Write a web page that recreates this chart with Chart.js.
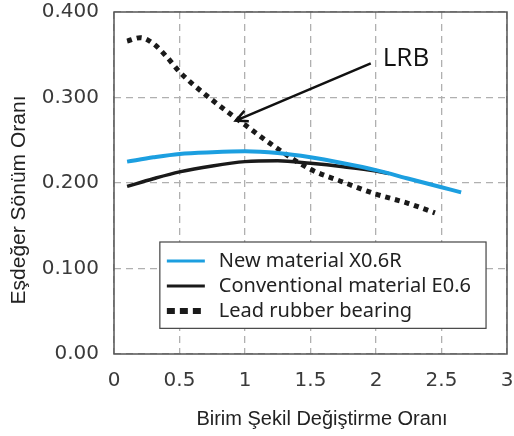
<!DOCTYPE html>
<html>
<head>
<meta charset="utf-8">
<script src="https://cdn.jsdelivr.net/npm/chart.js@4"></script>
<style>
  html, body { margin: 0; padding: 0; background: #fff; }
  #box { width: 514px; height: 436px; }
</style>
</head>
<body>
<div id="box"><canvas id="myChart"></canvas></div>
<script>
var xTicks = [0, 0.5, 1, 1.5, 2, 2.5, 3];
var yTicks = [0, 0.1, 0.2, 0.3, 0.4];

var seriesNames = ["New material X0.6R", "Conventional material E0.6", "Lead rubber bearing"];

var newX = [0.1, 0.3, 0.5, 0.75, 1.0, 1.25, 1.5, 1.75, 2.0, 2.25, 2.5, 2.65];
var newY = [0.225, 0.230, 0.234, 0.236, 0.237, 0.235, 0.230, 0.223, 0.215, 0.205, 0.195, 0.189];

var convX = [0.1, 0.3, 0.5, 0.75, 1.0, 1.25, 1.5, 1.75, 2.0, 2.1];
var convY = [0.196, 0.205, 0.213, 0.220, 0.225, 0.226, 0.223, 0.219, 0.214, 0.211];

var lrbX = [0.1, 0.2, 0.3, 0.4, 0.5, 0.75, 1.0, 1.25, 1.5, 1.75, 2.0, 2.25, 2.45];
var lrbY = [0.366, 0.370, 0.363, 0.348, 0.330, 0.297, 0.268, 0.240, 0.216, 0.201, 0.187, 0.176, 0.165];

var xTitle = "Birim Şekil Değiştirme Oranı";
var yTitle = "Eşdeğer Sönüm Oranı";
var arrowText = "LRB";

const pts = (xs, ys) => xs.map((x, i) => ({ x: x, y: ys[i] }));

var blue = "#1c9fe0";
var black = "#1a1a1a";

// frame, axis titles, LRB arrow and the boxed legend
var extras = {
    id: "extras",
    afterDatasetsDraw(chart) {
        const ctx = chart.ctx;
        const a = chart.chartArea;
        const xs = chart.scales.x, ys = chart.scales.y;
        ctx.save();

        ctx.strokeStyle = "#555";
        ctx.lineWidth = 1.5;
        ctx.strokeRect(a.left, a.top, a.right - a.left, a.bottom - a.top);

        // arrow
        const x0 = xs.getPixelForValue(1.96), y0 = ys.getPixelForValue(0.340);
        const x1 = xs.getPixelForValue(0.93), y1 = ys.getPixelForValue(0.273);
        ctx.strokeStyle = "#111";
        ctx.lineWidth = 2.5;
        ctx.beginPath();
        ctx.moveTo(x0, y0);
        ctx.lineTo(x1, y1);
        const ang = Math.atan2(y1 - y0, x1 - x0);
        ctx.moveTo(x1 - 13 * Math.cos(ang - 0.45), y1 - 13 * Math.sin(ang - 0.45));
        ctx.lineTo(x1, y1);
        ctx.lineTo(x1 - 13 * Math.cos(ang + 0.45), y1 - 13 * Math.sin(ang + 0.45));
        ctx.stroke();

        ctx.fillStyle = "#111";
        ctx.font = "26px 'Open Sans'";
        ctx.textBaseline = "middle";
        ctx.textAlign = "left";
        ctx.fillText(arrowText, x0 + 12, y0 - 5);

        // legend
        const lx = xs.getPixelForValue(0.35), rx = xs.getPixelForValue(2.84);
        const ty = ys.getPixelForValue(0.131), by = ys.getPixelForValue(0.030);
        ctx.fillStyle = "#fff";
        ctx.fillRect(lx, ty, rx - lx, by - ty);
        ctx.strokeStyle = "#444";
        ctx.lineWidth = 1.2;
        ctx.strokeRect(lx, ty, rx - lx, by - ty);

        ctx.font = "20px 'Noto Sans'";
        chart.data.datasets.forEach((ds, i) => {
            const cy = ty + 19 + i * 25;
            ctx.strokeStyle = ds.borderColor;
            if (ds.borderDash.length) {
                ctx.lineWidth = 6;
                ctx.setLineDash([8, 5]);
            } else {
                ctx.lineWidth = 3;
                ctx.setLineDash([]);
            }
            ctx.beginPath();
            ctx.moveTo(lx + 7, cy);
            ctx.lineTo(lx + 45, cy);
            ctx.stroke();
            ctx.setLineDash([]);
            ctx.fillStyle = "#222";
            ctx.fillText(ds.label, lx + 59, cy);
        });

        // axis titles
        ctx.fillStyle = "#222";
        ctx.font = "20px 'Liberation Sans'";
        ctx.textAlign = "center";
        ctx.fillText(xTitle, 322, 419);
        ctx.font = "21px 'Liberation Sans'";
        ctx.translate(19, 200);
        ctx.rotate(-Math.PI / 2);
        ctx.fillText(yTitle, 0, 0);
        ctx.restore();
    }
};

new Chart("myChart", {
    type: "line",
    data: {
        datasets: [{
            label: seriesNames[0],
            data: pts(newX, newY),
            borderColor: blue,
            borderWidth: 4,
            borderDash: []
        }, {
            label: seriesNames[1],
            data: pts(convX, convY),
            borderColor: black,
            borderWidth: 3.5,
            borderDash: []
        }, {
            label: seriesNames[2],
            data: pts(lrbX, lrbY),
            borderColor: black,
            borderWidth: 5,
            borderDash: [5, 5]
        }]
    },
    options: {
        animation: false,
        responsive: true,
        maintainAspectRatio: false,
        layout: { padding: { top: 12, right: 7, left: 0, bottom: 0 } },
        elements: {
            point: { radius: 0 },
            line: { tension: 0.4, cubicInterpolationMode: "monotone", fill: false }
        },
        plugins: {
            legend: { display: false },
            tooltip: { enabled: false }
        },
        scales: {
            x: {
                type: "linear",
                min: 0,
                max: 3,
                afterBuildTicks: (s) => { s.ticks = xTicks.map(v => ({ value: v })); },
                afterFit: (s) => { s.height = 82; s.paddingLeft = 0; s.paddingRight = 0; },
                ticks: {
                    padding: 15,
                    color: "#3a3a3a",
                    font: { family: "DejaVu Sans", size: 20 },
                    maxRotation: 0,
                    callback: (v) => String(v)
                },
                grid: { color: "#b0b0b0", lineWidth: 1.3, drawTicks: false },
                border: { display: false, dash: [7, 5] }
            },
            y: {
                min: 0,
                max: 0.4,
                afterBuildTicks: (s) => { s.ticks = yTicks.map(v => ({ value: v })); },
                afterFit: (s) => { s.width = 114; s.paddingTop = 0; s.paddingBottom = 0; },
                ticks: {
                    padding: 15,
                    color: "#3a3a3a",
                    font: { family: "DejaVu Sans", size: 20 },
                    callback: (v) => v === 0 ? "0.00" : v.toFixed(3)
                },
                grid: { color: "#b0b0b0", lineWidth: 1.3, drawTicks: false },
                border: { display: false, dash: [7, 5] }
            }
        }
    },
    plugins: [extras]
});
</script>
</body>
</html>
